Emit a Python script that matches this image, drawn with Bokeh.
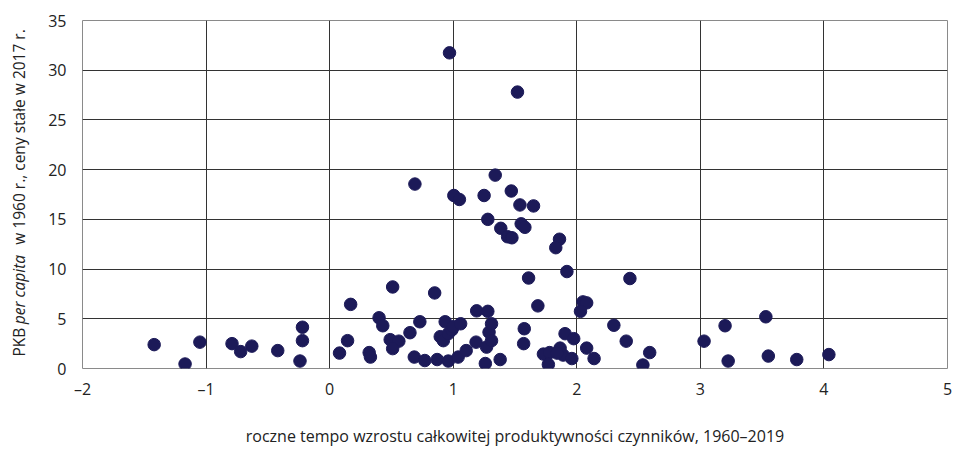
import math
from bokeh.plotting import figure
from bokeh.layouts import row
from bokeh.models import FixedTicker, Range1d
from bokeh.core.properties import value
from bokeh.embed import file_html
from bokeh.resources import INLINE

# roczne tempo wzrostu TFP, 1960-2019 (%)
tfp_growth = [
    -1.42, -1.17, -1.05, -0.79, -0.72, -0.63, -0.42, -0.22, -0.22, -0.24,
    0.08, 0.145, 0.17, 0.32, 0.33, 0.40, 0.43, 0.49, 0.56, 0.51,
    0.51, 0.65, 0.685, 0.73, 0.77, 0.85, 0.87, 0.895, 0.92, 0.935,
    0.96, 0.96, 0.99, 1.00, 1.04, 1.06, 1.105, 1.185, 1.19, 1.28,
    1.27, 1.26, 1.29, 1.31, 1.31, 1.38,
    0.97, 1.52, 1.34, 0.69, 1.005, 1.05, 1.25, 1.47, 1.54, 1.65,
    1.28, 1.385, 1.55, 1.58, 1.44, 1.475, 1.86, 1.83,
    1.61, 1.92, 2.43, 1.685, 2.05, 2.08, 2.03, 1.575, 1.57, 2.30,
    2.40, 1.905, 1.975, 2.08, 2.14, 1.73, 1.78, 1.865, 1.89, 1.96,
    1.77, 1.84, 2.59, 2.535,
    3.03, 3.20, 3.225, 3.53, 3.55, 3.78, 4.04,
]
# PKB per capita w 1960 r. (tys., ceny stałe 2017)
gdp_1960 = [
    2.4, 0.45, 2.65, 2.5, 1.7, 2.25, 1.8, 4.15, 2.8, 0.75,
    1.55, 2.8, 6.45, 1.6, 1.15, 5.1, 4.3, 2.9, 2.75, 2.0,
    8.2, 3.6, 1.15, 4.7, 0.8, 7.6, 0.9, 3.2, 2.8, 4.7,
    0.75, 3.5, 3.9, 4.2, 1.15, 4.5, 1.8, 2.65, 5.8, 5.75,
    2.15, 0.5, 3.65, 4.5, 2.8, 0.9,
    31.75, 27.8, 19.45, 18.55, 17.4, 17.0, 17.4, 17.85, 16.45, 16.35,
    15.0, 14.1, 14.55, 14.2, 13.25, 13.15, 13.0, 12.15,
    9.1, 9.75, 9.05, 6.3, 6.7, 6.6, 5.75, 4.0, 2.5, 4.35,
    2.75, 3.5, 3.0, 2.05, 1.0, 1.45, 1.6, 2.05, 1.35, 1.0,
    0.4, 1.55, 1.6, 0.35,
    2.75, 4.3, 0.75, 5.2, 1.25, 0.9, 1.4,
]

x_ticks = [-2, -1, 0, 1, 2, 3, 4, 5]
x_tick_labels = {-2: "\u20132", -1: "\u20131"}
y_ticks = [0, 5, 10, 15, 20, 25, 30, 35]

y_title_parts = ["PKB", "per capita", "w 1960 r., ceny stałe w 2017 r."]
y_title_styles = ["normal", "italic", "normal"]
x_title = "roczne tempo wzrostu całkowitej produktywności czynników, 1960–2019"

FONT = "Open Sans"
TXT = "#222222"
DOT = "#1c1a58"
H = 449
LW = 30
FRAME_H = 350  # inner frame height (aligned across the row)

# narrow panel holding the rotated y title (mixed roman / italic)
lab = figure(width=LW, height=H, output_backend="svg", toolbar_location=None,
             x_range=Range1d(0, LW), y_range=Range1d(0, FRAME_H),
             min_border_left=0, min_border_right=0, min_border_top=20,
             min_border_bottom=79, outline_line_color=None)
lab.axis.visible = False
lab.grid.visible = False
title_starts = [12, 44.5, 124.5]
for txt, st, y0 in zip(y_title_parts, y_title_styles, title_starts):
    lab.text(x=[18], y=[y0], text=[txt], angle=math.pi / 2,
             text_font=value(FONT), text_font_size="15.5px", text_font_style=st,
             text_color=TXT, text_align="left", text_baseline="middle")

p = figure(width=953 - LW, height=H, output_backend="svg", toolbar_location=None,
           x_range=Range1d(-2, 5), y_range=Range1d(0, 35),
           min_border_left=82 - LW, min_border_right=6, min_border_top=20,
           min_border_bottom=79)

p.scatter(tfp_growth, gdp_1960, size=12.5, color=DOT, line_color=DOT)

p.outline_line_color = "#8a8a8a"
p.outline_line_width = 1

p.xaxis.ticker = FixedTicker(ticks=x_ticks)
p.yaxis.ticker = FixedTicker(ticks=y_ticks)
p.xaxis.major_label_overrides = x_tick_labels
for ax in (p.xaxis, p.yaxis):
    ax.axis_line_color = None
    ax.major_tick_line_color = None
    ax.minor_tick_line_color = None
    ax.major_label_text_font = FONT
    ax.major_label_text_font_size = "16px"
    ax.major_label_text_color = TXT
p.yaxis.major_label_standoff = 10
p.xaxis.major_label_standoff = 3

p.xaxis.axis_label = x_title
p.xaxis.axis_label_text_font = FONT
p.xaxis.axis_label_text_font_size = "16px"
p.xaxis.axis_label_text_font_style = "normal"
p.xaxis.axis_label_text_color = TXT
p.xaxis.axis_label_standoff = 22

p.xgrid.grid_line_color = "#333333"
p.ygrid.grid_line_color = "#333333"

layout = row(lab, p, spacing=0)
open("out.html", "w").write(file_html(layout, INLINE))
